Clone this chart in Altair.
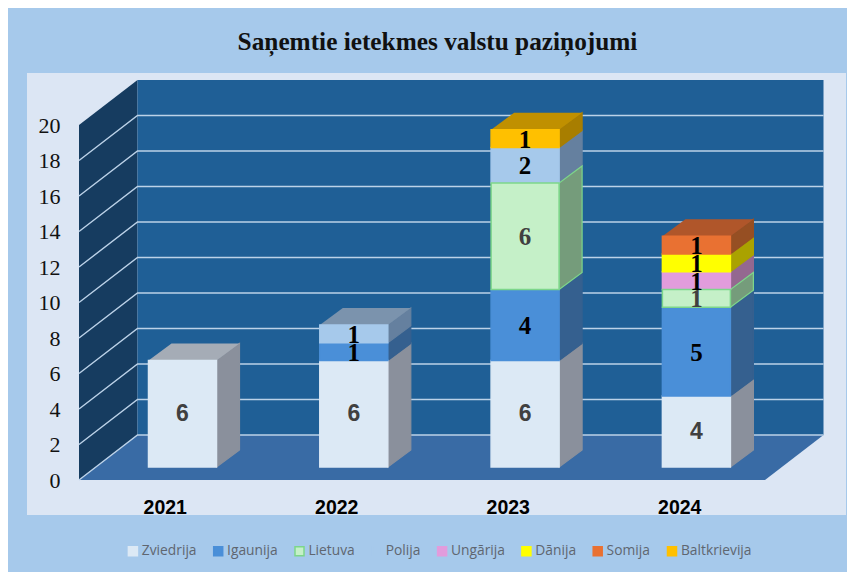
import altair as alt
import pandas as pd

title_text = "Saņemtie ietekmes valstu paziņojumi"
years = ["2021", "2022", "2023", "2024"]
series = ["Zviedrija", "Igaunija", "Lietuva", "Polija", "Ungārija", "Dānija", "Somija", "Baltkrievija"]
zviedrija = [6, 6, 6, 4]
igaunija = [0, 1, 4, 5]
lietuva = [0, 0, 6, 1]
polija = [0, 1, 2, 0]
ungarija = [0, 0, 0, 1]
danija = [0, 0, 0, 1]
somija = [0, 0, 0, 1]
baltkrievija = [0, 0, 1, 0]
y_ticks = list(range(0, 21, 2))

fills = ["#dce9f5", "#4a8fd8", "#c5f0c8", "#a6c9eb", "#e29cdc", "#ffff00", "#e97132", "#ffc000"]
edges = ["#dce9f5", "#4a8fd8", "#7dd68a", "#a6c9eb", "#e29cdc", "#ffff00", "#e97132", "#ffc000"]
sides = ["#8a909c", "#35608f", "#759c7b", "#65809f", "#946890", "#aaa200", "#964f23", "#a87e00"]
side_edges = ["#8a909c", "#35608f", "#7dd68a", "#65809f", "#946890", "#aaa200", "#964f23", "#a87e00"]
tops = ["#a5acb6", "#35608f", "#759c7b", "#7b93ad", "#946890", "#aaa200", "#b0562a", "#c09000"]
label_colors = ["#404040", "#000000", "#404040", "#000000", "#000000", "#000000", "#000000", "#000000"]

BG, PANEL, WALL, LWALL, FLOOR, GRID = "#a6c9eb", "#dce6f4", "#1f5f96", "#163c60", "#396ba5", "#bcd2e8"

W, H = 839, 564
PX_X, PX_Y = 171.5, 17.75
def xv(px): return (px - 79) / PX_X
def yv(py): return (480 - py) / PX_Y

WALL_DX, WALL_DY = 58.5 / PX_X, 45 / PX_Y
BAR_L, BAR_W, BAR_STEP = 69.5 / PX_X, 68 / PX_X, 171.3 / PX_X
BAR_DX, BAR_DY, BAR_LIFT = 23 / PX_X, 17 / PX_Y, 13 / PX_Y

x_scale = alt.Scale(domain=[xv(8), xv(8 + W)], nice=False, zero=False)
y_scale = alt.Scale(domain=[yv(8 + H), yv(8)], nice=False, zero=False)

x_axis = alt.Axis(values=[0.5, 1.5, 2.5, 3.5], labelExpr=f"{years}[floor(datum.value)]", title=None,
                  grid=False, domain=False, ticks=False, labelPadding=-65, labelBaseline="middle",
                  labelFont="Liberation Sans", labelFontWeight="bold", labelFontSize=19.5,
                  labelColor="#000000", labelOverlap=False, labelFlush=False, labelBound=False, zindex=1)
y_axis = alt.Axis(values=y_ticks, title=None, grid=False, domain=False, ticks=False, labelPadding=-52,
                  labelAlign="right", labelFont="Liberation Serif", labelFontSize=22,
                  labelColor="#111111", labelOverlap=False, labelFlush=False, labelBound=False, zindex=1)

X = lambda f="x": alt.X(f"{f}:Q", scale=x_scale, axis=x_axis)
Y = lambda f="y": alt.Y(f"{f}:Q", scale=y_scale, axis=y_axis)

# stack rows
columns = [zviedrija, igaunija, lietuva, polija, ungarija, danija, somija, baltkrievija]
rows, side_rows, top_rows, text_rows = [], [], [], []
for i, year in enumerate(years):
    base = BAR_LIFT
    left = i + BAR_L - (i * (1 - BAR_STEP))
    right = left + BAR_W
    seg = []
    for s, name in enumerate(series):
        v = columns[s][i]
        if not v:
            continue
        seg.append((s, name, v, base, base + v))
        text_rows.append({"x": (left + right) / 2, "y": base + v / 2, "v": str(v), "s": name, "c": label_colors[s]})
        base += v
    s, name, v, y0, y1 = seg[-1]
    for yy, sh in ((y1, 0), (y1 + BAR_DY, BAR_DX)):
        top_rows.append({"y": yy, "x": left + sh, "x2": right + sh, "c": tops[s]})
    for s, name, v, y0, y1 in sorted(seg, key=lambda t: t[1] == "Lietuva"):
        rows.append({"x": left, "x2": right, "y": y0, "y2": y1, "series": name})
        for xx, sh in ((right, 0), (right + BAR_DX, BAR_DY)):
            side_rows.append({"key": f"{i}-{s}", "x": xx, "y": y0 + sh, "y2": y1 + sh, "c": sides[s], "e": side_edges[s]})

bars = pd.DataFrame(rows)
side_df = pd.DataFrame(side_rows)
top_df = pd.DataFrame(top_rows)
text_df = pd.DataFrame(text_rows)
wall_top = 20

panel = alt.Chart(pd.DataFrame({"x": [xv(27)], "x2": [xv(846)], "y": [yv(515)], "y2": [yv(73)]})).mark_rect(color=PANEL).encode(
    x=X(), x2="x2:Q", y=Y(), y2="y2:Q")
left_wall = alt.Chart(pd.DataFrame({"x": [0, WALL_DX], "y": [0, WALL_DY], "y2": [wall_top, wall_top + WALL_DY]})).mark_area(
    color=LWALL, opacity=1).encode(x=X(), y=Y(), y2="y2:Q")
back_wall = alt.Chart(pd.DataFrame({"x": [WALL_DX, 4 + WALL_DX], "y": [WALL_DY, WALL_DY], "y2": [wall_top + WALL_DY] * 2})).mark_area(
    color=WALL, opacity=1).encode(x=X(), y=Y(), y2="y2:Q")
floor = alt.Chart(pd.DataFrame({"y": [0, WALL_DY], "x": [0, WALL_DX], "x2": [4, 4 + WALL_DX]})).mark_area(
    orient="horizontal", color=FLOOR, opacity=1).encode(x=X(), x2="x2:Q", y=Y())

grid_rows = []
for t in y_ticks[:-1]:
    grid_rows += [{"t": t, "o": 0, "x": 0, "y": t}, {"t": t, "o": 1, "x": WALL_DX, "y": t + WALL_DY},
                  {"t": t, "o": 2, "x": 4 + WALL_DX, "y": t + WALL_DY}]
grid = alt.Chart(pd.DataFrame(grid_rows)).mark_line(color=GRID, strokeWidth=1.4).encode(
    x=X(), y=Y(), detail="t:N", order="o:Q")

side_layer = alt.Chart(side_df).mark_area(opacity=1, strokeWidth=1.2).encode(
    x=X(), y=Y(), y2="y2:Q", detail="key:N",
    fill=alt.Fill("c:N", scale=None), stroke=alt.Stroke("e:N", scale=None))
top_layer = alt.Chart(top_df).mark_area(orient="horizontal", opacity=1).encode(
    x=X(), x2="x2:Q", y=Y(), detail="c:N", fill=alt.Fill("c:N", scale=None))

legend = alt.Legend(orient="none", legendX=118, legendY=536, direction="horizontal", columns=8, title=None,
                    symbolType="square", symbolSize=81, symbolStrokeWidth=1.5, symbolOpacity=1,
                    labelFont="Open Sans", labelFontSize=13.8, labelColor="#5f6670", labelOffset=2,
                    columnPadding=13.3, padding=0, values=series)
front = alt.Chart(bars).mark_bar(strokeWidth=1.5, opacity=1).encode(
    x=X(), x2="x2:Q", y=Y(), y2="y2:Q",
    fill=alt.Fill("series:N", scale=alt.Scale(domain=series, range=fills), legend=legend),
    stroke=alt.Stroke("series:N", scale=alt.Scale(domain=series, range=edges), legend=legend))

sans_labels = alt.Chart(text_df[text_df.s == "Zviedrija"]).mark_text(
    font="Liberation Sans", fontWeight="bold", fontSize=23, baseline="middle", dy=0).encode(
    x=X(), y=Y(), text="v:N", color=alt.Color("c:N", scale=None))
serif_labels = alt.Chart(text_df[text_df.s != "Zviedrija"]).mark_text(
    font="Liberation Serif", fontWeight="bold", fontSize=25, baseline="middle", dy=1).encode(
    x=X(), y=Y(), text="v:N", color=alt.Color("c:N", scale=None))
title_mark = alt.Chart(pd.DataFrame({"x": [xv(437.5)], "y": [yv(42)], "t": [title_text]})).mark_text(
    font="Liberation Serif", fontWeight="bold", fontSize=25.3, baseline="middle", color="#111111").encode(
    x=X(), y=Y(), text="t:N")

chart = alt.layer(panel, left_wall, back_wall, floor, grid, side_layer, top_layer, front,
                  sans_labels, serif_labels, title_mark).resolve_scale(color="independent").properties(
    width=W, height=H, background=BG, padding=0, autosize=alt.AutoSizeParams(type="none")
).configure_view(stroke=None)

chart.save("out.html", embed_options={"renderer": "svg", "actions": False})
